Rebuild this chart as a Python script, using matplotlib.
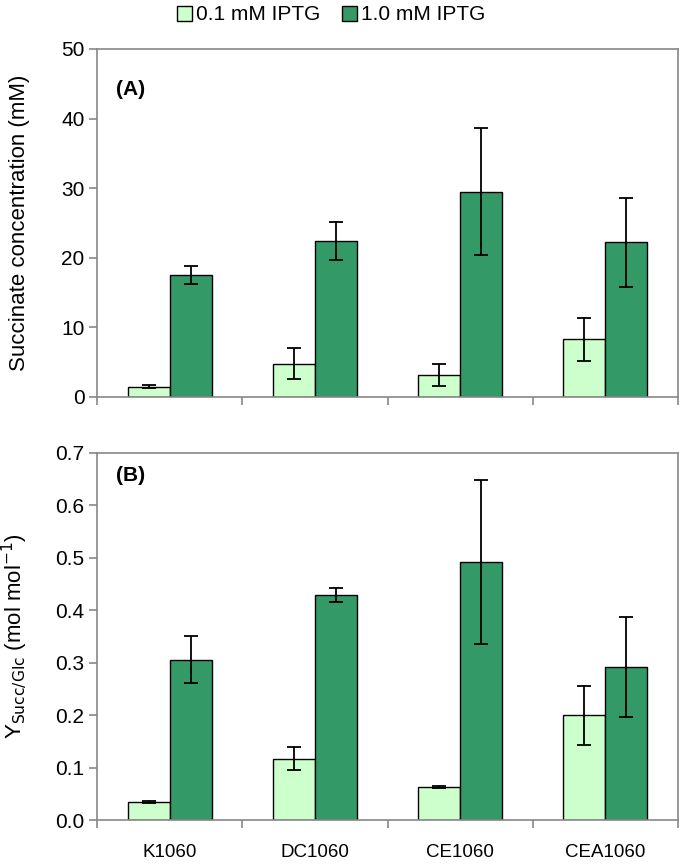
import matplotlib
matplotlib.use("Agg")
import matplotlib.pyplot as plt
import numpy as np

plt.rcParams['font.family'] = ['Liberation Sans', 'DejaVu Sans']

categories = ["K1060", "DC1060", "CE1060", "CEA1060"]
series_names = ["0.1 mM IPTG", "1.0 mM IPTG"]

succ_low = [1.5, 4.8, 3.2, 8.3]
succ_low_err = [0.2, 2.2, 1.6, 3.1]
succ_high = [17.5, 22.4, 29.5, 22.2]
succ_high_err = [1.3, 2.7, 9.1, 6.4]

yield_low = [0.035, 0.117, 0.063, 0.200]
yield_low_err = [0.002, 0.022, 0.002, 0.056]
yield_high = [0.306, 0.429, 0.492, 0.292]
yield_high_err = [0.045, 0.013, 0.157, 0.096]

light = "#CCFFCC"
dark = "#339966"
spine_col = "#888888"

W, H = 680, 864
fig = plt.figure(figsize=(6.8, 8.64), dpi=100)

def px_axes(left, top, right, bottom):
    return [left / W, 1 - bottom / H, (right - left) / W, (bottom - top) / H]

axA = fig.add_axes(px_axes(97, 49, 678, 397))
axB = fig.add_axes(px_axes(97, 453, 678, 820))

x = np.arange(len(categories))
w = 0.29

def draw(ax, lo, loe, hi, hie, ylim, yticks, fmt):
    b1 = ax.bar(x - w/2, lo, w, color=light, edgecolor='black', linewidth=1.0, zorder=2)
    b2 = ax.bar(x + w/2, hi, w, color=dark, edgecolor='black', linewidth=1.0, zorder=2)
    ax.errorbar(x - w/2, lo, yerr=loe, fmt='none', ecolor='black', elinewidth=1.3,
                capsize=5, capthick=1.3, zorder=3)
    ax.errorbar(x + w/2, hi, yerr=hie, fmt='none', ecolor='black', elinewidth=1.3,
                capsize=5, capthick=1.3, zorder=3)
    ax.set_xlim(-0.5, len(categories) - 0.5)
    ax.set_ylim(*ylim)
    ax.set_yticks(yticks)
    ax.set_yticklabels([fmt.format(v) for v in yticks], fontsize=15)
    ax.set_xticks(np.arange(len(categories) + 1) - 0.5)
    ax.set_xticklabels([])
    for s in ax.spines.values():
        s.set_color(spine_col)
        s.set_linewidth(1.2)
    ax.tick_params(axis='both', direction='out', length=6, color=spine_col, width=1.2)
    ax.tick_params(axis='y', pad=3)
    return b1, b2

b1, b2 = draw(axA, succ_low, succ_low_err, succ_high, succ_high_err,
              (0, 50), [0, 10, 20, 30, 40, 50], "{:d}")
draw(axB, yield_low, yield_low_err, yield_high, yield_high_err,
     (0, 0.7), [0.0, 0.1, 0.2, 0.3, 0.4, 0.5, 0.6, 0.7], "{:.1f}")

axA.set_ylabel("Succinate concentration (mM)", fontsize=16)
axB.set_ylabel(r"Y$_{\mathrm{Succ/Glc}}$ (mol mol$^{\mathrm{-1}}$)", fontsize=16)
axA.yaxis.set_label_coords(-0.115, 0.5)
axB.yaxis.set_label_coords(-0.115, 0.5)

# category labels under bottom panel
axB.set_xticks(x, minor=True)
axB.set_xticklabels(categories, minor=True, fontsize=13.5)
axB.tick_params(axis='x', which='minor', length=0, pad=17)

axA.text(0.033, 0.885, "(A)", transform=axA.transAxes, fontsize=15,
         fontweight='bold', va='center')
axB.text(0.033, 0.94, "(B)", transform=axB.transAxes, fontsize=15,
         fontweight='bold', va='center')

fig.legend([b1, b2], series_names, loc='center', bbox_to_anchor=(0.487, 1 - 15 / H),
           ncol=2, frameon=False, fontsize=15, handlelength=0.75, handleheight=0.75,
           handletextpad=0.2, columnspacing=1.0, borderpad=0)

fig.savefig("out.png", dpi=100)
